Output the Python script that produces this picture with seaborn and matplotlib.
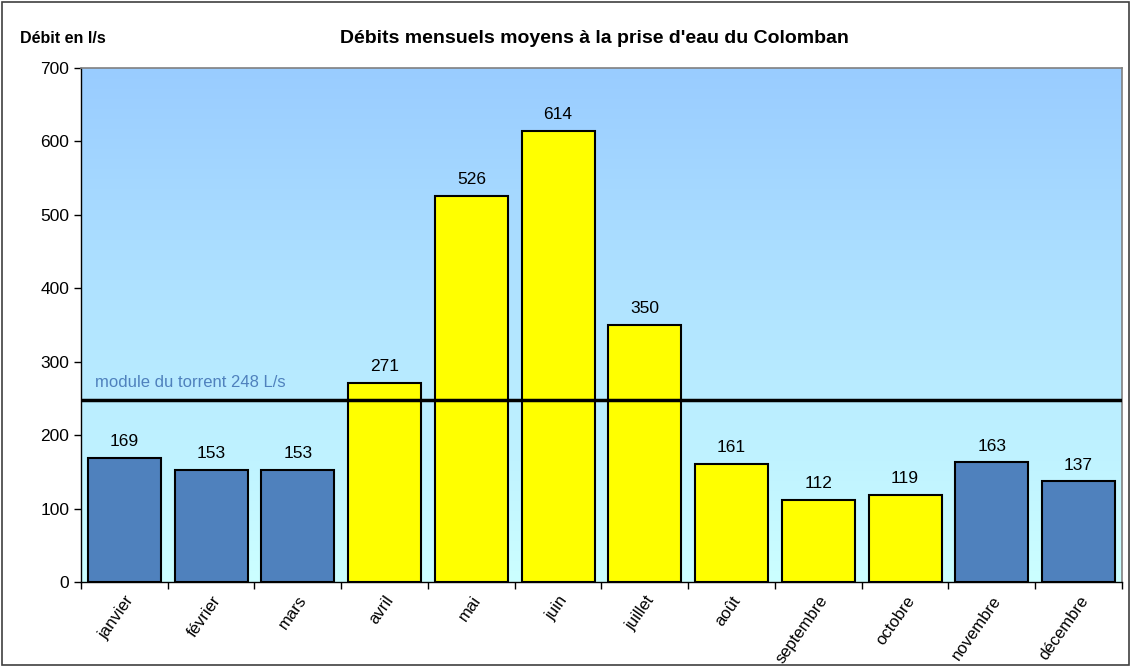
import numpy as np
import pandas as pd
import seaborn as sns
import matplotlib.pyplot as plt
from matplotlib.colors import LinearSegmentedColormap

# data
mois = ['janvier', 'février', 'mars', 'avril', 'mai', 'juin', 'juillet',
        'août', 'septembre', 'octobre', 'novembre', 'décembre']
debits = [169, 153, 153, 271, 526, 614, 350, 161, 112, 119, 163, 137]
periode = ['hiver', 'hiver', 'hiver', 'fonte', 'fonte', 'fonte', 'fonte',
           'fonte', 'fonte', 'fonte', 'hiver', 'hiver']
module = 248

sns.set_style("white", rc={'text.color': 'black', 'axes.labelcolor': 'black',
                           'xtick.color': 'black', 'ytick.color': 'black'})
plt.rcParams['font.family'] = ['Liberation Sans', 'DejaVu Sans']

df = pd.DataFrame({'Mois': mois, 'Debit': debits, 'Periode': periode})
palette = {'hiver': '#4F81BD', 'fonte': '#FFFF00'}

fig = plt.figure(figsize=(11.31, 6.67), dpi=100)
ax = fig.add_axes([0.0716, 0.1274, 0.9204, 0.7706])

# gradient background
cmap = LinearSegmentedColormap.from_list('ciel', ['#CCFFFF', '#99CCFF'])
grad = np.linspace(0, 1, 256).reshape(-1, 1)
ax.imshow(grad, cmap=cmap, aspect='auto', origin='lower',
          extent=(-0.5, 11.5, 0, 700), zorder=0)

sns.barplot(data=df, x='Mois', y='Debit', hue='Periode', palette=palette,
            dodge=False, width=0.84, saturation=1, edgecolor='black', linewidth=1.5,
            legend=False, ax=ax, zorder=2)

for i, v in enumerate(debits):
    ax.text(i, v + 12, str(v), ha='center', va='bottom', fontsize=12.5, zorder=4)

ax.axhline(module, color='black', linewidth=2.5, zorder=3)
ax.text(-0.34, module + 14, f'module du torrent {module} L/s', color='#4F81BD',
        fontsize=12, ha='left', va='bottom', zorder=4)

ax.set_xlim(-0.5, 11.5)
ax.set_ylim(0, 700)
ax.set_yticks(range(0, 701, 100))
ax.set_xticks(np.arange(-0.5, 12, 1), minor=True)
ax.tick_params(axis='x', which='major', length=0, pad=8)
ax.tick_params(axis='x', which='minor', length=5, width=1, color='black', direction='out')
ax.tick_params(axis='y', length=5, width=1, color='black', direction='out', labelsize=12.5)
ax.xaxis.set_ticks_position('bottom')
ax.yaxis.set_ticks_position('left')
plt.setp(ax.get_xticklabels(), rotation=55, ha='right', rotation_mode='anchor', fontsize=12)
ax.set_xlabel('')
ax.set_ylabel('')

for side in ['top', 'right']:
    ax.spines[side].set_color('#808080')
    ax.spines[side].set_linewidth(1.2)
for side in ['left', 'bottom']:
    ax.spines[side].set_color('black')
    ax.spines[side].set_linewidth(1)

fig.text(0.526, 0.942, "Débits mensuels moyens à la prise d'eau du Colomban",
         ha='center', va='center', fontsize=14, fontweight='bold')
fig.text(0.018, 0.942, 'Débit en l/s', ha='left', va='center', fontsize=11.5, fontweight='bold')

# outer frame of the chart
fig.patches.append(plt.Rectangle((0.002, 0.003), 0.996, 0.994, transform=fig.transFigure,
                                 fill=False, edgecolor='#404040', linewidth=1.2))

plt.savefig('out.png', dpi=100)
